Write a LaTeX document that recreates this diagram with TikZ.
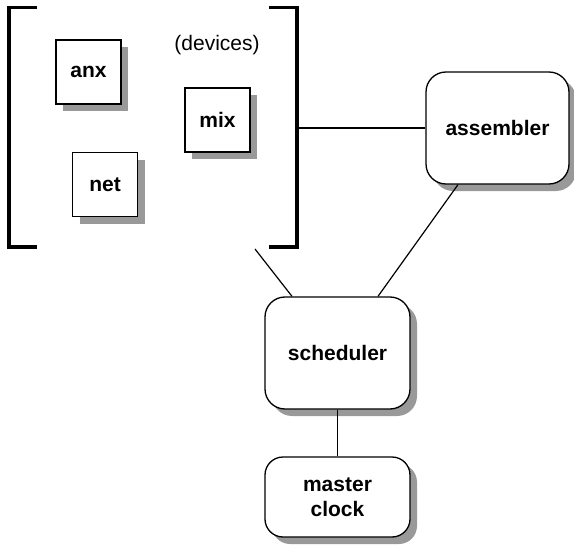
\documentclass[tikz,border=0pt]{standalone}
\usepackage{fontspec}
\setmainfont{Liberation Sans}
\usetikzlibrary{shadows,calc}
\begin{document}
\begin{tikzpicture}[x=1pt,y=-1pt,
  every node/.style={font=\fontsize{21}{25}\selectfont},
  shade/.style={drop shadow={shadow xshift=7pt,shadow yshift=-7pt,fill=black!40,opacity=1}},
  device/.style={draw,line width=1.3pt,fill=white,shade,minimum width=65pt,minimum height=64pt,inner sep=0pt,font=\fontsize{21}{25}\selectfont\bfseries},
  unit/.style={draw,line width=1.3pt,fill=white,shade,rounded corners=20pt,inner sep=0pt,align=center,font=\fontsize{21}{25}\selectfont\bfseries},
  wire/.style={line width=1.2pt},
  bracket/.style={line width=3.3pt}]
\useasboundingbox (0,0) rectangle (574,546);

% device group enclosed in brackets
\draw[bracket] (37,7.7) -| (9,247) -- (37,247);
\draw[bracket] (269,7.7) -| (297,247) -- (269,247);
\node (devlbl) at (217,45) {(devices)};
\node[device] (anx) at (88.5,72) {anx};
\node[device] (mix) at (217.5,120) {mix};
\node[device] (net) at (105,184.5) {net};

% processing units
\node[unit,minimum width=143pt,minimum height=112pt] (asm) at (497.5,128) {assembler};
\node[unit,minimum width=145pt,minimum height=112pt] (sched) at (337.5,353) {scheduler};
\node[unit,minimum width=145pt,minimum height=80pt,rounded corners=18pt] (clk) at (337.5,497) {master\\clock};

% connections
\coordinate (brk) at (297,128);
\coordinate (devfoot) at (255,249);
\draw[wire] (brk) -- (asm.west);
\draw[wire] ($(asm.south)+(-39.5,0)$) -- ($(sched.north)+(40.5,0)$);
\draw[wire] (devfoot) -- ($(sched.north)+(-45.5,0)$);
\draw[wire] (sched.south) -- (clk.north);
\end{tikzpicture}
\end{document}
